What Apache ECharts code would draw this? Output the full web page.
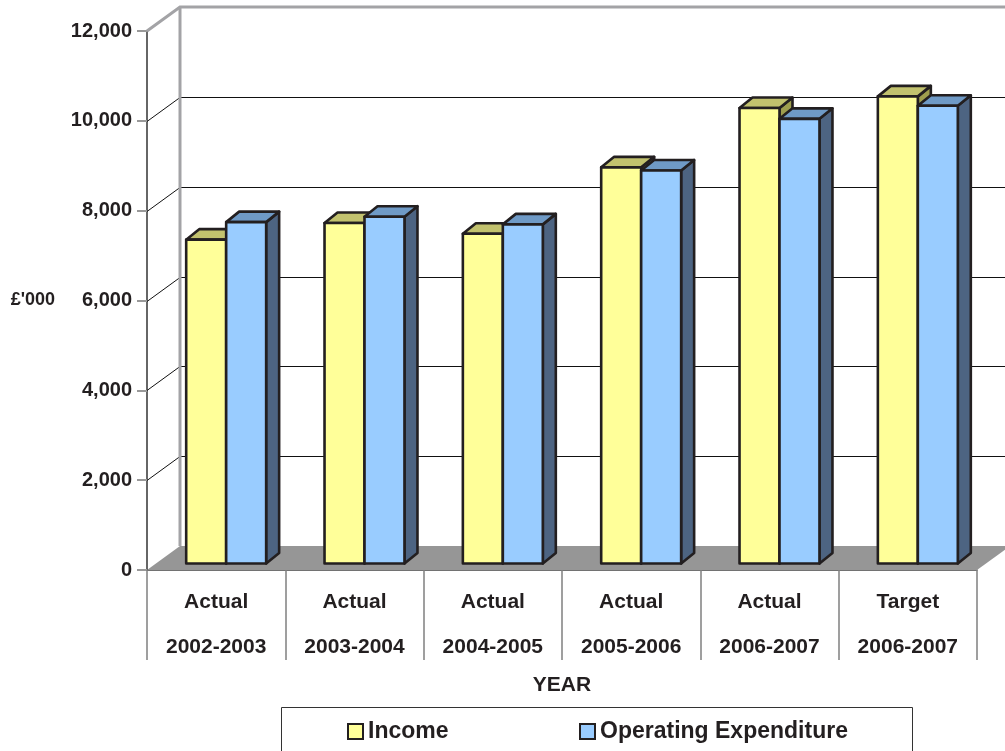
<!DOCTYPE html>
<html>
<head>
<meta charset="utf-8">
<script src="https://cdn.jsdelivr.net/npm/echarts@6/dist/echarts.min.js"></script>
<style>
html,body{margin:0;padding:0;background:#fff;}
#chart{width:1005px;height:751px;}
</style>
</head>
<body>
<div id="chart"></div>
<script>
// ---- data ----
var labelTop = ['Actual', 'Actual', 'Actual', 'Actual', 'Actual', 'Target'];
var labelBottom = ['2002-2003', '2003-2004', '2004-2005', '2005-2006', '2006-2007', '2006-2007'];
var income = [7210, 7580, 7340, 8820, 10140, 10400];
var expenditure = [7600, 7720, 7550, 8750, 9900, 10190];
var yTicks = [0, 2000, 4000, 6000, 8000, 10000, 12000];
var seriesNames = ['Income', 'Operating Expenditure'];

var categories = labelTop.map(function (t, i) { return t + '\n' + labelBottom[i]; });

// ---- 3D look ----
var WDX = 33, WDY = -24;      // wall depth offset
var PDX = 10, PDY = -6.5;     // bar plane offset from front
var BDX = 13, BDY = -10.5;    // bar depth
var BAR_FRAC = 0.289;
var INK = '#231F20';
var FONT = 'Liberation Sans';

function barRenderer(slot, cFront, cTop, cSide) {
  return function (params, api) {
    var i = api.value(0), v = api.value(1);
    var pTop = api.coord([i, v]);
    var pBot = api.coord([i, 0]);
    var band = api.size([1, 0])[0];
    var w = band * BAR_FRAC;
    var cx = pTop[0] + PDX;
    var xl = cx + (slot - 1) * w;
    var yT = pTop[1] + PDY, yB = pBot[1] + PDY;
    var st = {stroke: INK, lineWidth: 2.6, lineJoin: 'round'};
    return {
      type: 'group',
      children: [
        {type: 'polygon', shape: {points: [[xl + w, yT], [xl + w + BDX, yT + BDY], [xl + w + BDX, yB + BDY], [xl + w, yB]]},
          style: Object.assign({fill: cSide}, st)},
        {type: 'polygon', shape: {points: [[xl, yT], [xl + w, yT], [xl + w + BDX, yT + BDY], [xl + BDX, yT + BDY]]},
          style: Object.assign({fill: cTop}, st)},
        {type: 'rect', shape: {x: xl, y: yT, width: w, height: yB - yT},
          style: Object.assign({fill: cFront}, st)}
      ]
    };
  };
}

function wallRenderer(params, api) {
  var cs = params.coordSys;
  var x0 = cs.x, x1 = cs.x + cs.width;
  var y0 = api.coord([0, yTicks[0]])[1];
  var yMax = api.coord([0, yTicks[yTicks.length - 1]])[1];
  var ch = [];
  ch.push({type: 'polygon', shape: {points: [[x0, y0], [x1, y0], [x1 + WDX, y0 + WDY], [x0 + WDX, y0 + WDY]]},
    style: {fill: '#969696'}});
  for (var k = 1; k < yTicks.length - 1; k++) {
    var y = Math.round(api.coord([0, yTicks[k]])[1]) + 0.5;
    ch.push({type: 'polyline', shape: {points: [[x0, y], [x0 + WDX, y + WDY], [x1 + WDX, y + WDY]]},
      style: {stroke: '#111', lineWidth: 1, fill: null}});
  }
  ch.push({type: 'line', shape: {x1: x0 + WDX, y1: y0 + WDY, x2: x0 + WDX, y2: yMax + WDY},
    style: {stroke: '#A3A3A6', lineWidth: 3}});
  ch.push({type: 'polyline', shape: {points: [[x0, yMax], [x0 + WDX, yMax + WDY], [x1 + WDX, yMax + WDY]]},
    style: {stroke: '#A3A3A6', lineWidth: 3, fill: null}});
  return {type: 'group', children: ch};
}

var chart = echarts.init(document.getElementById('chart'), null, {renderer: 'canvas'});
chart.setOption({
  animation: false,
  backgroundColor: '#ffffff',
  textStyle: {fontFamily: FONT},
  grid: {left: 147, right: 28, top: 31, bottom: 181, containLabel: false},
  graphic: [{
    type: 'rect', left: 281, top: 707, z: -1,
    shape: {width: 631, height: 60},
    style: {fill: '#ffffff', stroke: '#333333', lineWidth: 1}
  }],
  legend: [{
    left: 347, top: 720, padding: 0, itemWidth: 15, itemHeight: 15,
    textStyle: {fontFamily: FONT, fontWeight: 'bold', fontSize: 23, color: INK, padding: [0, 0, 0, 0]},
    data: [{name: seriesNames[0], icon: 'rect', itemStyle: {color: '#FFFF99', borderColor: INK, borderWidth: 2}}]
  }, {
    left: 579, top: 720, padding: 0, itemWidth: 15, itemHeight: 15,
    textStyle: {fontFamily: FONT, fontWeight: 'bold', fontSize: 23, color: INK, padding: [0, 0, 0, 0]},
    data: [{name: seriesNames[1], icon: 'rect', itemStyle: {color: '#99CCFF', borderColor: INK, borderWidth: 2}}]
  }],
  xAxis: {
    type: 'category',
    data: categories,
    boundaryGap: true,
    name: 'YEAR',
    nameLocation: 'middle',
    nameGap: 98,
    nameTextStyle: {fontFamily: FONT, fontWeight: 'bold', fontSize: 21, color: INK},
    axisLine: {show: true, lineStyle: {color: '#444', width: 1.5}},
    axisTick: {show: true, interval: 0, length: 90, lineStyle: {color: '#808080', width: 1.5}},
    axisLabel: {interval: 0, margin: 10, lineHeight: 45, fontFamily: FONT, fontWeight: 'bold', fontSize: 21, color: INK},
    splitLine: {show: false}
  },
  yAxis: {
    type: 'value',
    min: yTicks[0], max: yTicks[yTicks.length - 1], interval: 2000,
    name: "£'000",
    nameLocation: 'middle',
    nameRotate: 0,
    nameGap: 92,
    nameTextStyle: {fontFamily: FONT, fontWeight: 'bold', fontSize: 18, color: INK},
    axisLine: {show: true, lineStyle: {color: '#333', width: 1.5}},
    axisTick: {show: true, length: 10, lineStyle: {color: '#999', width: 2}},
    axisLabel: {margin: 15, fontFamily: FONT, fontWeight: 'bold', fontSize: 20, color: INK,
      formatter: function (v) { return v.toLocaleString('en-GB'); }},
    splitLine: {show: false}
  },
  series: [{
    type: 'custom', name: 'walls', z: 1, silent: true,
    renderItem: wallRenderer,
    data: [[0, 0]],
    encode: {x: 0, y: 1}
  }, {
    type: 'custom', name: seriesNames[0], z: 3,
    itemStyle: {color: '#FFFF99'},
    renderItem: barRenderer(0, '#FFFF99', '#C2C26E', '#9E9E4E'),
    data: income.map(function (v, i) { return [i, v]; }),
    encode: {x: 0, y: 1}
  }, {
    type: 'custom', name: seriesNames[1], z: 3,
    itemStyle: {color: '#99CCFF'},
    renderItem: barRenderer(1, '#99CCFF', '#6F9AC6', '#4D6482'),
    data: expenditure.map(function (v, i) { return [i, v]; }),
    encode: {x: 0, y: 1}
  }]
});
</script>
</body>
</html>
